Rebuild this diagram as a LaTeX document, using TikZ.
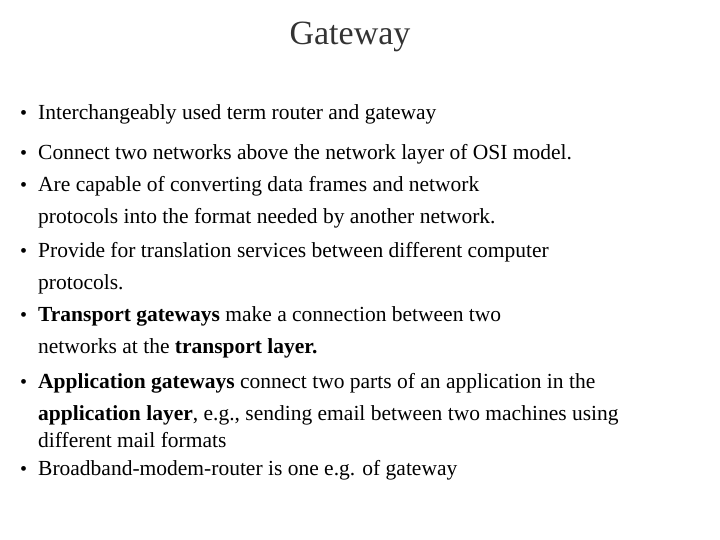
\documentclass[tikz,border=0pt]{standalone}
\usepackage{fontspec}
\setmainfont{Liberation Serif}
\begin{document}
\begin{tikzpicture}[x=1pt,y=-1pt,
  txt/.style={anchor=base west,inner sep=0pt,font=\fontsize{21.5}{24}\selectfont},
  bul/.style={anchor=base west,inner sep=0pt,font=\fontsize{20}{24}\selectfont}]
\useasboundingbox (0,0) rectangle (720,540);
\node[inner sep=0pt,font=\fontsize{34}{38}\selectfont,text=black!80] (title) at (350,37) {Gateway};
\foreach \n/\y in {b1/120,b2/160,b3/192,b4/257,b5/321,b6/388,b7/475}
  \node[bul] (\n) at (20,\y) {\textbullet};
\node[txt] (l1) at (38,120) {Interchangeably used term router and gateway};
\node[txt] (l2) at (38,160) {Connect two networks above the network layer of OSI model.};
\node[txt] (l3) at (38,192) {Are capable of converting data frames and network};
\node[txt] (l4) at (38,224) {protocols into the format needed by another network.};
\node[txt] (l5) at (38,257) {Provide for translation services between different computer};
\node[txt] (l6) at (38,289) {protocols.};
\node[txt] (l7) at (38,321) {\textbf{Transport gateways} make a connection between two};
\node[txt] (l8) at (38,353) {networks at the \textbf{transport layer.}};
\node[txt] (l9) at (38,388) {\textbf{Application gateways} connect two parts of an application in the};
\node[txt] (l10) at (38,420) {\textbf{application layer}, e.g., sending email between two machines using};
\node[txt] (l11) at (38,447) {different mail formats};
\node[txt] (l12) at (38,475) {Broadband-modem-router is one e.g. of gateway};
\end{tikzpicture}
\end{document}
